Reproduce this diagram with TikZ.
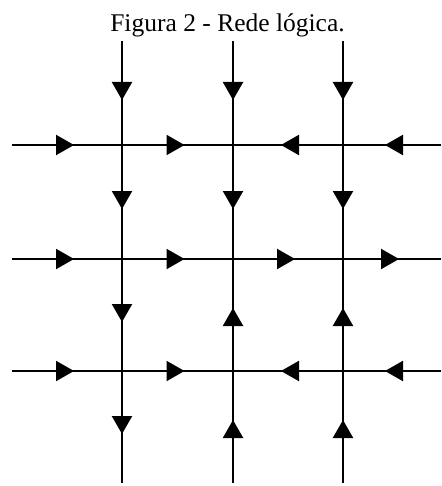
\documentclass[tikz,border=0pt]{standalone}
\usepackage{fontspec}
\setmainfont{Liberation Serif}
\usetikzlibrary{arrows.meta, decorations.markings}
\tikzset{
flow/.style={
line width=2.2pt,
draw=black,
postaction={decorate},
decoration={markings,
  mark=at position 0.5 with {\arrow[xshift=7pt]{Triangle[length=18pt,width=20pt]}}}
},
caption/.style={
font=\fontsize{25.5}{30}\selectfont,
anchor=base
}
}

\begin{document}
\begin{tikzpicture}[x=1pt, y=-1pt]
\useasboundingbox (0,0) rectangle (441,486);

\node[caption] (title) at (227.5,32) {Figura 2 - Rede lógica.};

% crossings
\coordinate (c11) at (122,145);
\coordinate (c12) at (233,145);
\coordinate (c13) at (343,145);
\coordinate (c21) at (122,259);
\coordinate (c22) at (233,259);
\coordinate (c23) at (343,259);
\coordinate (c31) at (122,371);
\coordinate (c32) at (233,371);
\coordinate (c33) at (343,371);

% loose ends
\coordinate (n1) at (122,41);
\coordinate (n2) at (233,41);
\coordinate (n3) at (343,41);
\coordinate (s1) at (122,483);
\coordinate (s2) at (233,483);
\coordinate (s3) at (343,483);
\coordinate (w1) at (12,145);
\coordinate (w2) at (12,259);
\coordinate (w3) at (12,371);
\coordinate (e1) at (441,145);
\coordinate (e2) at (441,259);
\coordinate (e3) at (441,371);

% rows
\draw[flow] (w1) -- (c11);
\draw[flow] (c11) -- (c12);
\draw[flow] (c13) -- (c12);
\draw[flow] (e1) -- (c13);

\draw[flow] (w2) -- (c21);
\draw[flow] (c21) -- (c22);
\draw[flow] (c22) -- (c23);
\draw[flow] (c23) -- (e2);

\draw[flow] (w3) -- (c31);
\draw[flow] (c31) -- (c32);
\draw[flow] (c33) -- (c32);
\draw[flow] (e3) -- (c33);

% columns
\draw[flow] (n1) -- (c11);
\draw[flow] (c11) -- (c21);
\draw[flow] (c21) -- (c31);
\draw[flow] (c31) -- (s1);

\draw[flow] (n2) -- (c12);
\draw[flow] (c12) -- (c22);
\draw[flow] (c32) -- (c22);
\draw[flow] (s2) -- (c32);

\draw[flow] (n3) -- (c13);
\draw[flow] (c13) -- (c23);
\draw[flow] (c33) -- (c23);
\draw[flow] (s3) -- (c33);

\end{tikzpicture}
\end{document}
